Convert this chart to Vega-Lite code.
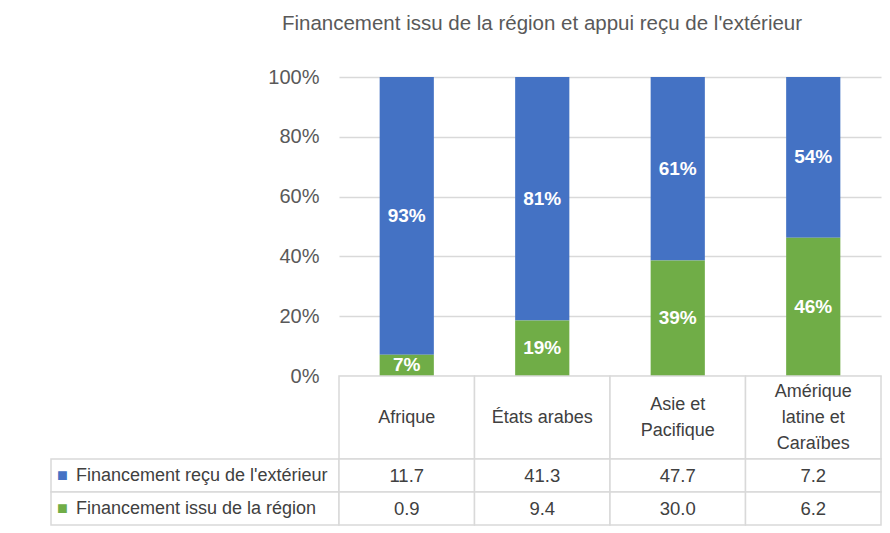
{
  "$schema": "https://vega.github.io/schema/vega-lite/v6.json",
  "padding": {"left": 50, "top": 13, "right": 5, "bottom": 5},
  "background": "white",
  "title": {"text": "Financement issu de la région et appui reçu de l'extérieur", "fontSize": 20.5, "font": "Liberation Sans", "fontWeight": "normal", "color": "#595959", "anchor": "middle", "dx": 76, "offset": 33},
  "datasets": {
    "fin": [
      {"region": "Afrique", "series": "Financement reçu de l'extérieur", "value": 11.7, "pct": 0.93},
      {"region": "Afrique", "series": "Financement issu de la région", "value": 0.9, "pct": 0.07},
      {"region": "États arabes", "series": "Financement reçu de l'extérieur", "value": 41.3, "pct": 0.81},
      {"region": "États arabes", "series": "Financement issu de la région", "value": 9.4, "pct": 0.19},
      {"region": "Asie et\nPacifique", "series": "Financement reçu de l'extérieur", "value": 47.7, "pct": 0.61},
      {"region": "Asie et\nPacifique", "series": "Financement issu de la région", "value": 30.0, "pct": 0.39},
      {"region": "Amérique\nlatine et\nCaraïbes", "series": "Financement reçu de l'extérieur", "value": 7.2, "pct": 0.54},
      {"region": "Amérique\nlatine et\nCaraïbes", "series": "Financement issu de la région", "value": 6.2, "pct": 0.46}
    ]
  },
  "columns": 2,
  "spacing": 0,
  "bounds": "flush",
  "concat": [
    {"width": 288, "height": 299, "data": {"values": []}, "mark": "point"},
    {
      "width": 542, "height": 299,
      "data": {"name": "fin"},
      "encoding": {"x": {"field": "region", "type": "nominal", "sort": null, "scale": {"paddingInner": 0.6, "paddingOuter": 0.3}, "axis": null}},
      "layer": [
        {
          "mark": {"type": "bar"},
          "encoding": {
            "y": {"field": "value", "type": "quantitative", "stack": "normalize",
              "axis": {"title": null, "format": ".0%", "values": [0, 0.2, 0.4, 0.6, 0.8, 1], "ticks": false, "domain": false, "gridColor": "#d9d9d9", "gridWidth": 1.5, "labelFontSize": 20, "labelColor": "#595959", "labelPadding": 20, "labelFont": "Liberation Sans"}},
            "color": {"field": "series", "type": "nominal", "scale": {"domain": ["Financement reçu de l'extérieur", "Financement issu de la région"], "range": ["#4472C4", "#70AD47"]}, "legend": null},
            "order": {"field": "series", "sort": "ascending"}
          }
        },
        {
          "mark": {"type": "text", "color": "white", "fontWeight": "bold", "fontSize": 19, "font": "Liberation Sans"},
          "encoding": {
            "y": {"field": "value", "type": "quantitative", "stack": "normalize", "bandPosition": 0.5},
            "detail": {"field": "series"},
            "order": {"field": "series", "sort": "ascending"},
            "text": {"field": "pct", "type": "quantitative", "format": ".0%"}
          }
        }
      ]
    },
    {"width": 288, "height": 83, "data": {"values": []}, "mark": "point"},
    {
      "width": 542, "height": 83,
      "data": {"name": "fin"},
      "transform": [{"filter": {"field": "series", "equal": "Financement reçu de l'extérieur"}}],
      "encoding": {"x": {"field": "region", "type": "nominal", "sort": null, "scale": {"paddingInner": 0, "paddingOuter": 0}, "axis": null}},
      "layer": [
        {"mark": {"type": "rect", "fill": "white", "stroke": "#d9d9d9", "strokeWidth": 1.5}},
        {"transform": [{"filter": {"field": "region", "oneOf": ["Afrique", "États arabes"]}}],
          "mark": {"type": "text", "fontSize": 18, "color": "#404040", "lineBreak": "\n", "lineHeight": 26, "font": "Liberation Sans"}, "encoding": {"text": {"field": "region"}}},
        {"transform": [{"filter": {"field": "region", "equal": "Asie et\nPacifique"}}],
          "mark": {"type": "text", "fontSize": 18, "color": "#404040", "lineBreak": "\n", "lineHeight": 26, "dy": -13, "font": "Liberation Sans"}, "encoding": {"text": {"field": "region"}}},
        {"transform": [{"filter": {"field": "region", "equal": "Amérique\nlatine et\nCaraïbes"}}],
          "mark": {"type": "text", "fontSize": 18, "color": "#404040", "lineBreak": "\n", "lineHeight": 26, "dy": -26, "font": "Liberation Sans"}, "encoding": {"text": {"field": "region"}}}
      ]
    },
    {
      "width": 288, "height": 66,
      "data": {"name": "fin"},
      "transform": [{"filter": {"field": "region", "equal": "Afrique"}}],
      "encoding": {"y": {"field": "series", "type": "nominal", "sort": ["Financement reçu de l'extérieur", "Financement issu de la région"], "scale": {"paddingInner": 0, "paddingOuter": 0}, "axis": null}},
      "layer": [
        {"mark": {"type": "rect", "fill": "white", "stroke": "#d9d9d9", "strokeWidth": 1.5}},
        {"mark": {"type": "text", "text": "■", "fontSize": 18, "align": "left", "dx": 6},
          "encoding": {"x": {"datum": 0, "type": "quantitative", "scale": {"domain": [0, 1]}, "axis": null},
            "color": {"field": "series", "type": "nominal", "scale": {"domain": ["Financement reçu de l'extérieur", "Financement issu de la région"], "range": ["#4472C4", "#70AD47"]}, "legend": null}}},
        {"mark": {"type": "text", "fontSize": 18, "align": "left", "dx": 25, "color": "#404040", "font": "Liberation Sans"},
          "encoding": {"x": {"datum": 0, "type": "quantitative", "scale": {"domain": [0, 1]}, "axis": null}, "text": {"field": "series"}}}
      ]
    },
    {
      "width": 542, "height": 66,
      "data": {"name": "fin"},
      "encoding": {
        "x": {"field": "region", "type": "nominal", "sort": null, "scale": {"paddingInner": 0, "paddingOuter": 0}, "axis": null},
        "y": {"field": "series", "type": "nominal", "sort": ["Financement reçu de l'extérieur", "Financement issu de la région"], "scale": {"paddingInner": 0, "paddingOuter": 0}, "axis": null}
      },
      "layer": [
        {"mark": {"type": "rect", "fill": "white", "stroke": "#d9d9d9", "strokeWidth": 1.5}},
        {"mark": {"type": "text", "fontSize": 18.5, "color": "#404040", "font": "Liberation Sans"}, "encoding": {"text": {"field": "value", "type": "quantitative", "format": ".1f"}}}
      ]
    }
  ],
  "config": {"view": {"stroke": null}, "font": "Liberation Sans"}
}
